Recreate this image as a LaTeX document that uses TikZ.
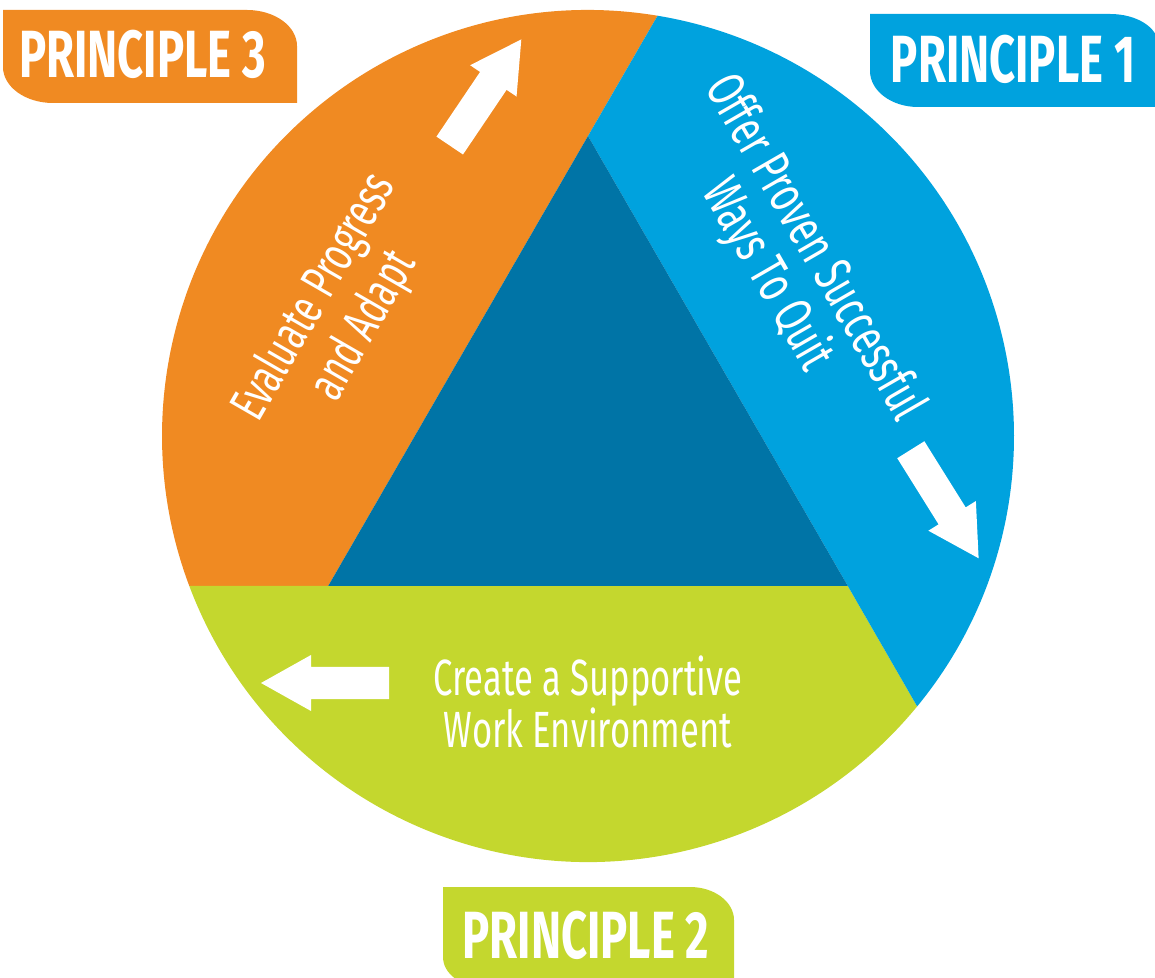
\documentclass[tikz,border=0pt]{standalone}
\usepackage{fontspec}
\setmainfont{Fira Sans}[FakeStretch=0.68]
\usepackage{tikz}
\usetikzlibrary{calc}
\definecolor{pOrange}{RGB}{240,138,34}
\definecolor{pBlue}{RGB}{0,162,222}
\definecolor{pDark}{RGB}{0,116,166}
\definecolor{pGreen}{RGB}{196,215,46}
\tikzset{
  tablabel/.style={text=white, inner sep=0pt, font=\fontsize{38}{38}\selectfont\bfseries},
  sectorlabel/.style={text=white, align=center, inner sep=0pt, font=\fontsize{29}{28.5}\selectfont},
  whitearrow/.pic={\fill[white] (-64,-16) -- (14,-16) -- (14,-28) -- (64,0) -- (14,28) -- (14,16) -- (-64,16) -- cycle;}
}
\begin{document}
\begin{tikzpicture}[x=0.02cm,y=0.02cm]
      \useasboundingbox (0,0) rectangle (1155,977);
      \coordinate (O) at (588,541);
      \coordinate (apex) at ($(O)+(90:300)$);
      \coordinate (bl) at ($(O)+(210:300)$);
      \coordinate (br) at ($(O)+(330:300)$);
      \coordinate (p1) at ($(O)+(80.6:426)$);
      \coordinate (p2) at ($(O)+(200.6:426)$);
      \coordinate (p3) at ($(O)+(320.6:426)$);
      \fill[pOrange] (p1) arc[start angle=80.6, end angle=200.6, radius=426] -- (bl) -- (apex) -- cycle;
      \fill[pGreen] (p2) arc[start angle=200.6, end angle=320.6, radius=426] -- (br) -- (bl) -- cycle;
      \fill[pBlue] (p3) arc[start angle=320.6, end angle=440.6, radius=426] -- (apex) -- (br) -- cycle;
      \fill[pDark] (apex) -- (bl) -- (br) -- cycle;
      \fill[pOrange] (3,967) -- (247,967) arc[start angle=90, end angle=0, x radius=50, y radius=36] -- (297,874) -- (53,874) arc[start angle=270, end angle=180, x radius=50, y radius=36] -- cycle;
      \fill[pBlue] (870,963) -- (1110,963) arc[start angle=90, end angle=0, x radius=48, y radius=30] -- (1158,870) -- (918,870) arc[start angle=270, end angle=180, x radius=48, y radius=36] -- cycle;
      \fill[pGreen] (443,90) -- (690,90) arc[start angle=90, end angle=0, x radius=44, y radius=33] -- (734,-10) -- (483,-10) arc[start angle=270, end angle=180, x radius=40, y radius=30] -- cycle;
      \node[tablabel] (tab3) at (142.5,922.5) {PRINCIPLE 3};
      \node[tablabel] (tab1) at (1013,917.5) {PRINCIPLE 1};
      \node[tablabel] (tab2) at (586,41.5) {PRINCIPLE 2};
      \pic[rotate=56] at (485.5,884.5) {whitearrow};
      \pic[rotate=-58] at (944.7,473) {whitearrow};
      \pic[rotate=180] at (325,294) {whitearrow};
      \node[sectorlabel, rotate=60, font=\fontsize{29}{32.4}\selectfont] (evaluate) at (340,665) {Evaluate Progress\\and Adapt};
      \node[sectorlabel, rotate=-60, font=\fontsize{30.5}{31}\selectfont] (offer) at (790,715) {Offer Proven Successful\\Ways To Quit};
      \node[sectorlabel] (create) at (588,275) {Create a Supportive\\Work Environment};
    \end{tikzpicture}
\end{document}
